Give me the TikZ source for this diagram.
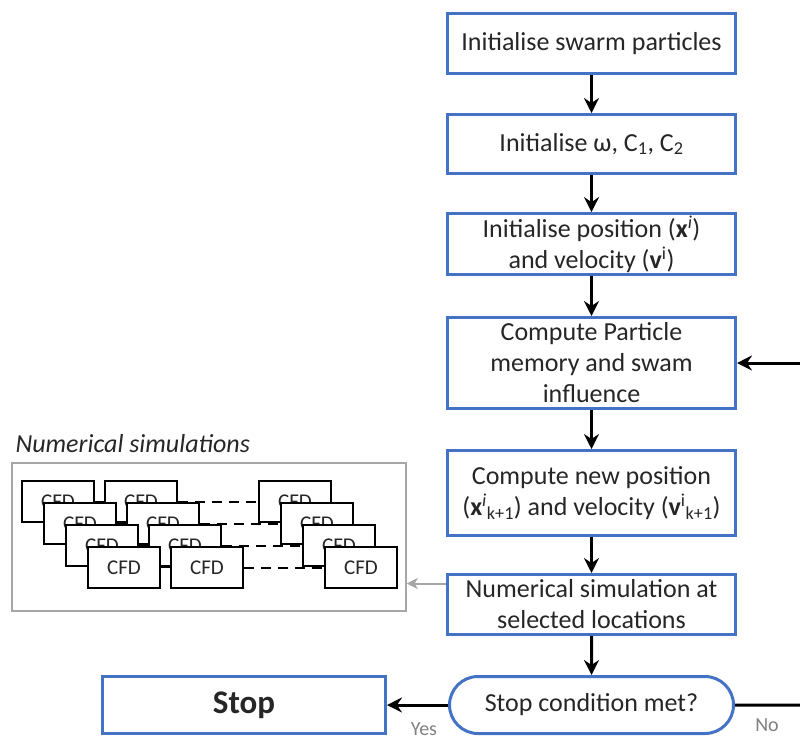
\documentclass[tikz,border=0pt]{standalone}
\usepackage{fontspec}
\setmainfont{Carlito}
\usetikzlibrary{arrows.meta,shapes.misc}
\definecolor{boxblue}{RGB}{68,114,196}
\definecolor{txtgray}{RGB}{38,38,38}
\definecolor{framegray}{RGB}{166,166,166}
\tikzset{
	flowbox/.style={draw=boxblue, line width=3pt, fill=white, minimum width=288pt, align=center, text=txtgray, font=\fontsize{26}{31}\selectfont, inner sep=2pt},
	arr/.style={line width=3pt, -{Stealth[length=15pt,width=15pt,inset=5pt]}},
	cfdbox/.style={draw, line width=1.5pt, fill=white, minimum width=72pt, minimum height=41pt, text=txtgray, font=\fontsize{21}{24}\selectfont, inner sep=0pt},
	lbl/.style={text=gray, font=\fontsize{20}{24}\selectfont},
}
\begin{document}
\begin{tikzpicture}[x=1pt,y=-1pt]
		\useasboundingbox (0,0) rectangle (800,740);
		% main chain
		\node [flowbox, minimum height=60pt] (init) at (591.5,43.5) {Initialise swarm particles};
		\node [flowbox, minimum height=59pt] (params) at (591.5,144) {Initialise ω, C\textsubscript{1}, C\textsubscript{2}};
		\node [flowbox, minimum height=59pt] (initpos) at (591.5,244) {Initialise position (\textbf{x}\textsuperscript{\itshape i})\\and velocity (\textbf{v}\textsuperscript{i})};
		\node [flowbox, minimum height=91pt] (memory) at (591.5,363) {Compute Particle\\memory and swam\\influence};
		\node [flowbox, minimum height=85pt] (newpos) at (591.5,493) {Compute new position\\(\textbf{x}\textsuperscript{\itshape i}\textsubscript{k+1}) and velocity (\textbf{v}\textsuperscript{i}\textsubscript{k+1})};
		\node [flowbox, minimum height=60pt] (sim) at (591.5,604.5) {Numerical simulation at\\selected locations};
		\node [flowbox, rounded rectangle, minimum height=57pt] (stopq) at (591.5,705) {Stop condition met?};
		\node [flowbox, minimum width=283pt, minimum height=57pt, font=\fontsize{33}{36}\selectfont\bfseries] (stop) at (244,705) {Stop};

		\draw [arr] (init) -- (params);
		\draw [arr] (params) -- (initpos);
		\draw [arr] (initpos) -- (memory);
		\draw [arr] (memory) -- (newpos);
		\draw [arr] (newpos) -- (sim);
		\draw [arr] (sim) -- (stopq);
		\draw [arr] (stopq) -- (stop);

		% loop back (runs off the right edge)
		\coordinate (noend) at (800,705);
		\coordinate (backin) at (800,363);
		\draw [line width=3pt] (stopq) -- (noend);
		\draw [arr] (backin) -- (memory);

		\node [lbl] (yes) at (424,729) {Yes};
		\node [lbl] (no) at (767,725) {No};

		% numerical simulations
		\node [anchor=base west, text=txtgray, font=\fontsize{26}{30}\selectfont\itshape] (numtitle) at (12,452) {Numerical simulations};
		\node [draw=framegray, line width=1.5pt, minimum width=394pt, minimum height=148pt] (numframe) at (209,537) {};
		\foreach \l in {0,1,2,3} {
			\node [cfdbox] (cfd-\l-a) at (58+22*\l,501.5+22*\l) {CFD};
			\node [cfdbox] (cfd-\l-b) at (141+22*\l,501.5+22*\l) {CFD};
			\node [cfdbox] (cfd-\l-c) at (295+22*\l,501.5+22*\l) {CFD};
			\draw [line width=1.5pt] (cfd-\l-a) -- (cfd-\l-b);
			\draw [line width=2pt, dash pattern=on 10pt off 7pt] (cfd-\l-b) -- (cfd-\l-c);
		}
		\draw [framegray, line width=2pt, -{Stealth[length=11pt,width=11pt,inset=3pt]}] ([yshift=21pt]sim.west) -- ([yshift=21pt]sim.west -| numframe.east);
	\end{tikzpicture}
\end{document}
